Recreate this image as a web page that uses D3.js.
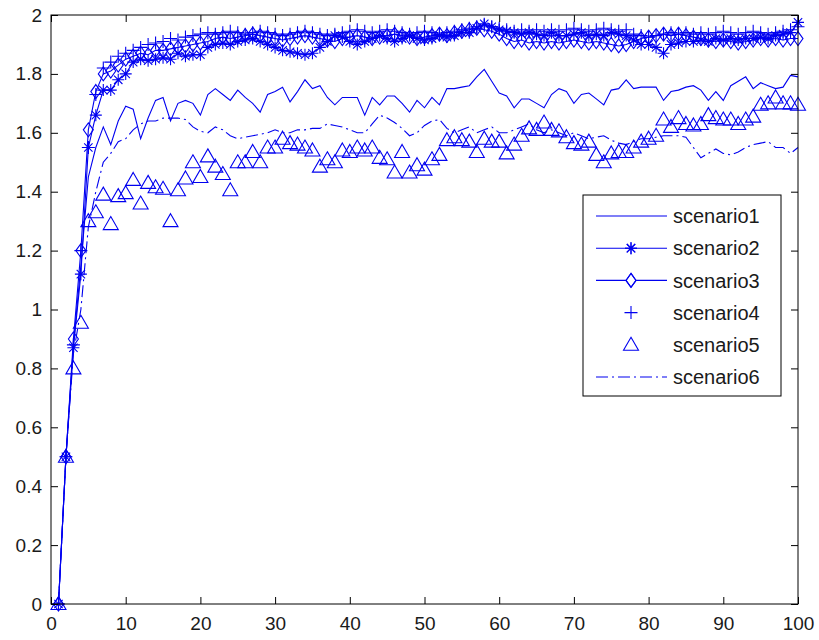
<!DOCTYPE html>
<html>
<head>
<meta charset="utf-8">
<script src="https://cdn.jsdelivr.net/npm/d3@7"></script>
<style>
  html, body { margin: 0; padding: 0; background: #fff; }
  svg { display: block; }
</style>
</head>
<body>
<svg id="chart" width="819" height="640"></svg>
<script>
// ---------- data ----------
const xValues = d3.range(1, 101);

const scenario1 = [0,0.5,0.88,1.15,1.45,1.55,1.62,1.56,1.64,1.69,
1.68,1.58,1.65,1.71,1.72,1.64,1.70,1.71,1.70,1.66,
1.73,1.75,1.73,1.71,1.745,1.72,1.70,1.67,1.73,1.74,
1.755,1.705,1.74,1.78,1.75,1.76,1.72,1.695,1.72,1.72,
1.72,1.66,1.72,1.695,1.725,1.725,1.70,1.67,1.71,1.685,
1.72,1.695,1.75,1.75,1.755,1.76,1.79,1.815,1.775,1.735,
1.725,1.685,1.715,1.715,1.70,1.685,1.73,1.75,1.74,1.70,
1.73,1.735,1.715,1.695,1.745,1.75,1.78,1.75,1.755,1.755,
1.755,1.71,1.74,1.745,1.755,1.76,1.745,1.71,1.74,1.71,
1.76,1.775,1.79,1.75,1.77,1.76,1.75,1.755,1.795,1.79];

const scenario2 = [0,0.5,0.87,1.12,1.55,1.66,1.745,1.745,1.78,1.80,
1.84,1.85,1.845,1.85,1.855,1.85,1.87,1.86,1.865,1.865,
1.89,1.90,1.905,1.90,1.91,1.915,1.92,1.91,1.90,1.89,
1.88,1.875,1.87,1.865,1.87,1.89,1.91,1.93,1.925,1.91,
1.90,1.91,1.92,1.93,1.92,1.91,1.92,1.93,1.92,1.915,
1.92,1.93,1.925,1.93,1.94,1.94,1.955,1.97,1.96,1.95,
1.945,1.94,1.935,1.94,1.935,1.93,1.94,1.93,1.93,1.935,
1.94,1.93,1.935,1.93,1.94,1.935,1.93,1.915,1.90,1.90,
1.89,1.87,1.90,1.905,1.91,1.91,1.915,1.91,1.92,1.915,
1.92,1.915,1.92,1.92,1.925,1.92,1.93,1.935,1.94,1.975];

const scenario3 = [0,0.5,0.9,1.2,1.61,1.74,1.80,1.81,1.83,1.85,
1.86,1.87,1.865,1.88,1.88,1.885,1.89,1.895,1.90,1.905,
1.91,1.92,1.925,1.92,1.925,1.93,1.935,1.93,1.925,1.92,
1.915,1.92,1.925,1.93,1.925,1.92,1.915,1.91,1.92,1.925,
1.93,1.925,1.92,1.925,1.93,1.935,1.93,1.925,1.92,1.925,
1.93,1.935,1.93,1.94,1.945,1.95,1.955,1.95,1.945,1.935,
1.92,1.91,1.915,1.905,1.91,1.905,1.91,1.905,1.91,1.915,
1.91,1.905,1.91,1.905,1.90,1.895,1.90,1.91,1.92,1.925,
1.93,1.935,1.93,1.935,1.93,1.925,1.92,1.915,1.91,1.915,
1.91,1.905,1.91,1.915,1.92,1.915,1.92,1.915,1.92,1.92];

const scenario4 = [0,0.5,0.88,1.2,1.55,1.73,1.82,1.84,1.86,1.87,
1.88,1.89,1.90,1.905,1.91,1.92,1.915,1.925,1.93,1.935,
1.94,1.935,1.94,1.945,1.94,1.935,1.94,1.945,1.94,1.935,
1.93,1.935,1.94,1.945,1.94,1.935,1.93,1.935,1.94,1.945,
1.95,1.945,1.94,1.945,1.95,1.945,1.94,1.935,1.94,1.945,
1.94,1.935,1.94,1.945,1.95,1.955,1.96,1.965,1.96,1.955,
1.95,1.945,1.95,1.945,1.95,1.945,1.95,1.945,1.95,1.955,
1.95,1.945,1.95,1.955,1.95,1.945,1.95,1.935,1.93,1.925,
1.93,1.935,1.94,1.935,1.94,1.935,1.94,1.935,1.94,1.945,
1.94,1.935,1.94,1.945,1.94,1.935,1.94,1.945,1.95,1.96];

const scenario5 = [0,0.5,0.8,0.955,1.30,1.33,1.39,1.29,1.385,1.395,
1.44,1.36,1.43,1.415,1.41,1.30,1.405,1.445,1.50,1.45,
1.52,1.485,1.46,1.405,1.50,1.50,1.535,1.50,1.55,1.55,
1.58,1.565,1.56,1.55,1.54,1.485,1.51,1.50,1.54,1.535,
1.55,1.54,1.55,1.515,1.51,1.465,1.535,1.465,1.49,1.475,
1.51,1.525,1.575,1.585,1.575,1.57,1.535,1.58,1.57,1.57,
1.53,1.56,1.59,1.615,1.61,1.635,1.61,1.605,1.585,1.565,
1.56,1.57,1.525,1.50,1.53,1.535,1.535,1.55,1.57,1.58,
1.59,1.645,1.62,1.65,1.63,1.625,1.63,1.66,1.65,1.645,
1.645,1.63,1.645,1.655,1.695,1.70,1.72,1.70,1.70,1.695];

const scenario6 = [0,0.5,0.85,1.0,1.28,1.40,1.50,1.53,1.57,1.58,
1.61,1.63,1.64,1.64,1.65,1.65,1.65,1.645,1.62,1.605,
1.60,1.62,1.61,1.59,1.58,1.585,1.59,1.595,1.60,1.61,
1.60,1.60,1.61,1.61,1.615,1.615,1.63,1.625,1.62,1.61,
1.60,1.60,1.63,1.66,1.65,1.635,1.615,1.59,1.60,1.625,
1.64,1.645,1.615,1.60,1.61,1.62,1.60,1.61,1.62,1.60,
1.60,1.61,1.62,1.63,1.61,1.60,1.61,1.60,1.59,1.60,
1.59,1.58,1.585,1.59,1.575,1.565,1.56,1.57,1.58,1.58,
1.585,1.59,1.59,1.59,1.585,1.55,1.515,1.53,1.545,1.53,
1.525,1.535,1.55,1.56,1.565,1.57,1.55,1.55,1.53,1.55];

const seriesNames = ["scenario1","scenario2","scenario3","scenario4","scenario5","scenario6"];
const xTicks = [0,10,20,30,40,50,60,70,80,90,100];
const yTicks = [0,0.2,0.4,0.6,0.8,1,1.2,1.4,1.6,1.8,2];

// ---------- layout ----------
const svg = d3.select("#chart");
const L = 51, R = 798, T = 15, B = 604;
const x = d3.scaleLinear().domain([0,100]).range([L,R]);
const y = d3.scaleLinear().domain([0,2]).range([B,T]);
const BLUE = "#0000f0";
const FONT = "'Liberation Sans', Arial, sans-serif";

svg.append("rect").attr("width",819).attr("height",640).attr("fill","#fff");

// marker shapes
const markerPaths = {
  star: "M-6,0H6M0,-6V6M-4.2,-4.2L4.2,4.2M-4.2,4.2L4.2,-4.2",
  diamond: "M0,-7L5,0L0,7L-5,0Z",
  plus: "M-6.5,0H6.5M0,-6.5V6.5",
  triangle: "M0,-7.5L7.5,5.5L-7.5,5.5Z"
};

const series = [
  {name: seriesNames[0], data: scenario1, line: true,  dash: null,       marker: null},
  {name: seriesNames[1], data: scenario2, line: true,  dash: null,       marker: "star"},
  {name: seriesNames[2], data: scenario3, line: true,  dash: null,       marker: "diamond"},
  {name: seriesNames[3], data: scenario4, line: false, dash: null,       marker: "plus"},
  {name: seriesNames[4], data: scenario5, line: false, dash: null,       marker: "triangle"},
  {name: seriesNames[5], data: scenario6, line: true,  dash: "12,4,2,4", marker: null}
];

const plot = svg.append("g");
const lineGen = d3.line().x((d,i) => x(xValues[i])).y(d => y(d));

series.forEach(s => {
  const g = plot.append("g");
  if (s.line) {
    g.append("path").datum(s.data)
      .attr("d", lineGen)
      .attr("fill","none").attr("stroke",BLUE).attr("stroke-width",1.1)
      .attr("stroke-dasharray", s.dash);
  }
  if (s.marker) {
    g.selectAll("path.m").data(s.data).join("path")
      .attr("class","m")
      .attr("d", markerPaths[s.marker])
      .attr("transform", (d,i) => `translate(${x(xValues[i])},${y(d)})`)
      .attr("fill","none").attr("stroke",BLUE).attr("stroke-width",1.1);
  }
});

// ---------- axes ----------
const tickLen = 7;
const axB = svg.append("g").attr("transform",`translate(0,${B})`)
  .call(d3.axisBottom(x).tickValues(xTicks).tickSizeInner(-tickLen).tickSizeOuter(0).tickPadding(13).tickFormat(d3.format("d")));
const axT = svg.append("g").attr("transform",`translate(0,${T})`)
  .call(d3.axisTop(x).tickValues(xTicks).tickSizeInner(-tickLen).tickSizeOuter(0).tickFormat(""));
const axL = svg.append("g").attr("transform",`translate(${L},0)`)
  .call(d3.axisLeft(y).tickValues(yTicks).tickSizeInner(-tickLen).tickSizeOuter(0).tickPadding(9).tickFormat(d => d3.format("")(+d.toFixed(1))));
const axR = svg.append("g").attr("transform",`translate(${R},0)`)
  .call(d3.axisRight(y).tickValues(yTicks).tickSizeInner(-tickLen).tickSizeOuter(0).tickFormat(""));

[axB,axT,axL,axR].forEach(a => {
  a.select(".domain").remove();
  a.selectAll("line").attr("stroke","#000");
  a.selectAll("text").attr("font-family",FONT).attr("font-size",19).attr("fill","#1a1a1a");
});

svg.append("rect").attr("x",L).attr("y",T).attr("width",R-L).attr("height",B-T)
  .attr("fill","none").attr("stroke","#000").attr("stroke-width",1);

// ---------- legend ----------
const lg = svg.append("g");
const LX = 583, LY = 195, LW = 198, LH = 201;
lg.append("rect").attr("x",LX).attr("y",LY).attr("width",LW).attr("height",LH)
  .attr("fill","#fff").attr("stroke","#000").attr("stroke-width",1);
const rowY = i => 216 + i*32.2;
series.forEach((s,i) => {
  const yy = rowY(i);
  if (s.line) {
    lg.append("line").attr("x1",596).attr("x2",667).attr("y1",yy).attr("y2",yy)
      .attr("stroke",BLUE).attr("stroke-width",1.1).attr("stroke-dasharray", s.dash);
  }
  if (s.marker) {
    lg.append("path").attr("d",markerPaths[s.marker])
      .attr("transform",`translate(631,${yy})`)
      .attr("fill", s.line ? "#fff" : "none").attr("stroke",BLUE).attr("stroke-width",1.1);
    if (s.line) {
      lg.append("path").attr("d",markerPaths[s.marker])
        .attr("transform",`translate(631,${yy})`)
        .attr("fill","none").attr("stroke",BLUE).attr("stroke-width",1.1);
    }
  }
  lg.append("text").attr("x",673).attr("y",yy).attr("dy","0.36em")
    .attr("font-family",FONT).attr("font-size",20).attr("fill","#1a1a1a")
    .text(s.name);
});
</script>
</body>
</html>
